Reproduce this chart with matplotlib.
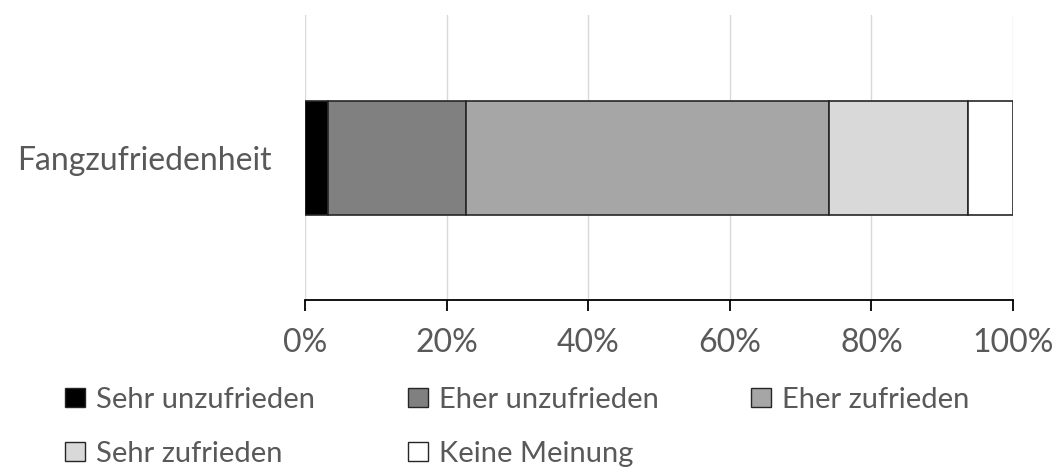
import matplotlib
matplotlib.use("Agg")
import matplotlib.pyplot as plt
from matplotlib.patches import Patch

plt.rcParams['font.family'] = ['Lato', 'DejaVu Sans']

category = ["Fangzufriedenheit"]
labels = ["Sehr unzufrieden", "Eher unzufrieden", "Eher zufrieden",
          "Sehr zufrieden", "Keine Meinung"]
values = [3.2, 19.5, 51.3, 19.6, 6.4]
colors = ["#000000", "#808080", "#a6a6a6", "#d9d9d9", "#ffffff"]
ticks = [0, 20, 40, 60, 80, 100]
tick_labels = ["0%", "20%", "40%", "60%", "80%", "100%"]

text_color = "#595959"

fig = plt.figure(figsize=(10.57, 4.68), dpi=100)
ax = fig.add_axes([305 / 1057, 1 - 300 / 468, 708 / 1057, 285 / 468])

left = 0
for v, c in zip(values, colors):
    ax.barh(category, v, left=left, height=0.4, color=c,
            edgecolor="#262626", linewidth=1.2, zorder=3)
    left += v

ax.set_xlim(0, 100)
ax.set_ylim(-0.5, 0.5)
ax.set_xticks(ticks)
ax.set_xticklabels(tick_labels)
ax.grid(axis="x", color="#d9d9d9", linewidth=1, zorder=0)
for s in ["top", "right", "left"]:
    ax.spines[s].set_visible(False)
ax.spines["bottom"].set_color("#000000")
ax.spines["bottom"].set_linewidth(1.3)
ax.tick_params(axis="x", direction="out", length=8, width=1.3, color="#000000",
               labelsize=23, labelcolor=text_color, pad=12)
ax.tick_params(axis="y", length=0, labelsize=23, labelcolor=text_color, pad=24)

# legend: three columns, filled row by row
handles = [Patch(facecolor=c, edgecolor="#262626", linewidth=1.0, label=l)
           for c, l in zip(colors, labels)]
col_x = [65, 408, 751]
columns = [[handles[0], handles[3]], [handles[1], handles[4]], [handles[2]]]
for x, hs in zip(col_x, columns):
    fig.legend(handles=hs, loc="upper left",
               bbox_to_anchor=(x / 1057, 1 - 387 / 468), frameon=False,
               fontsize=21, labelcolor=text_color, handlelength=0.7,
               handleheight=0.6, handletextpad=0.35, borderpad=0,
               borderaxespad=0, labelspacing=0.95)

fig.savefig("out.png", dpi=100)
